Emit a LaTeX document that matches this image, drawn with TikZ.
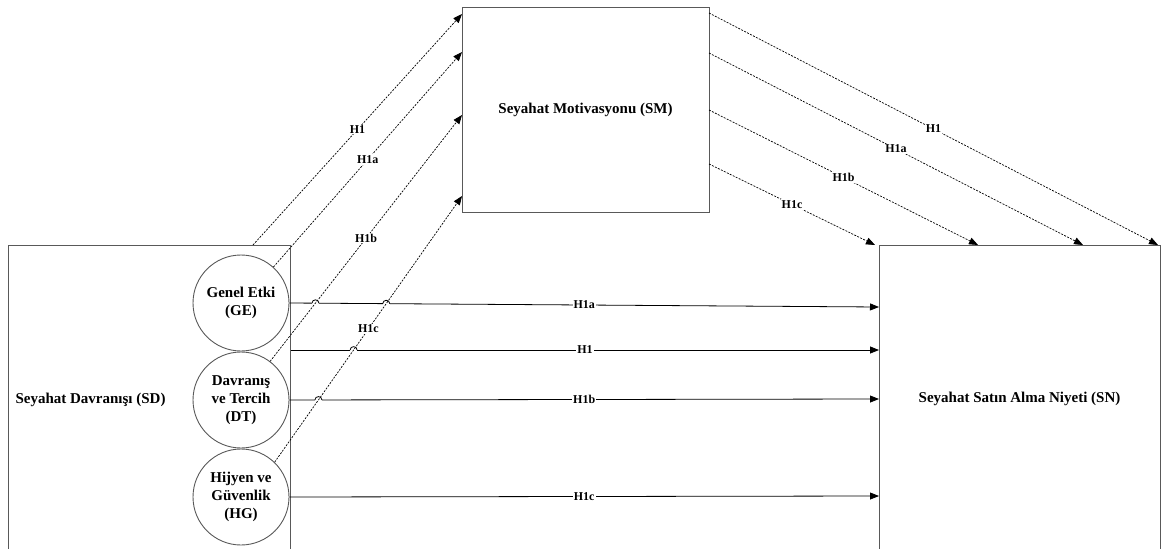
\documentclass[tikz,border=0pt]{standalone}
\usepackage{fontspec}
\setmainfont{Liberation Serif}
\usetikzlibrary{arrows.meta, calc}

\tikzset{
  block/.style={draw=black!65, line width=0.9pt, rectangle, inner sep=0pt,
    font=\fontsize{15}{18}\selectfont\bfseries},
  factor/.style={draw=black!65, line width=0.9pt, circle, minimum size=96pt,
    inner sep=0pt, align=center, font=\fontsize{15}{18}\selectfont\bfseries},
  direct/.style={->, black, line width=0.8pt},
  mediated/.style={->, black, line width=0.7pt, dash pattern=on 2pt off 1.3pt},
  hyp/.style={midway, fill=white, inner sep=1pt, font=\fontsize{12}{14}\selectfont\bfseries}
}

\begin{document}
\begin{tikzpicture}[x=1pt, y=-1pt, >={Triangle[length=9pt,width=7pt]}]

    \clip (0,0) rectangle (1163,549);

    % Main boxes
    \node[block, minimum width=282pt, minimum height=308pt] (SD) at (149,399) {};
    \node[font=\fontsize{15}{18}\selectfont\bfseries, anchor=west] (SDtxt) at (12,400) {Seyahat Davranışı (SD)};
    \node[block, minimum width=247pt, minimum height=205pt] (SM) at (585.5,109.5) {Seyahat Motivasyonu (SM)};
    \node[block, minimum width=281pt, minimum height=308pt] (SN) at (1019.5,399) {Seyahat Satın Alma Niyeti (SN)};

    % Sub-dimensions
    \node[factor] (GE) at (241,303) {Genel Etki\\(GE)};
    \node[factor] (DT) at (241,400) {Davranış\\ve Tercih\\(DT)};
    \node[factor] (HG) at (241,497) {Hijyen ve\\Güvenlik\\(HG)};

    % Arrow ends
    \coordinate (sdtop) at (253,245);
    \coordinate (sdh) at (291,350);
    \coordinate (sm1) at (462,14);
    \coordinate (sm2) at (462,52);
    \coordinate (sm3) at (462,115);
    \coordinate (sm4) at (462,196);
    \coordinate (smo1) at (709,13);
    \coordinate (smo2) at (709,53);
    \coordinate (smo3) at (709,110);
    \coordinate (smo4) at (709,164);
    \coordinate (sn1) at (1158,245);
    \coordinate (sn2) at (1083,245);
    \coordinate (sn3) at (978,245);
    \coordinate (sn4) at (875,245);
    \coordinate (sna) at (879,307);
    \coordinate (snh) at (879,350);
    \coordinate (snb) at (879,399);
    \coordinate (snc) at (879,496);

    % Direct effects
    \draw[direct] (GE.east) -- node[hyp] {H1a} (sna);
    \draw[direct] (sdh) -- node[hyp] {H1} (snh);
    \draw[direct] (DT.east) -- node[hyp] {H1b} (snb);
    \draw[direct] (HG.east) -- node[hyp] {H1c} (snc);

    % Line hops
    \coordinate (j1) at (intersection of GE.east--sna and DT.53--sm3);
    \coordinate (j2) at (intersection of GE.east--sna and HG.46--sm4);
    \coordinate (j3) at (intersection of sdh--snh and HG.46--sm4);
    \coordinate (j4) at (intersection of DT.east--snb and HG.46--sm4);
    \foreach \j in {j1,j2,j3,j4} {
      \fill[white] ($(\j)+(-3.5,-1.5)$) rectangle ($(\j)+(3.5,1.5)$);
      \draw[line width=0.8pt] ($(\j)+(-3.5,0)$) .. controls +(0,-4.5) and +(0,-4.5) .. ($(\j)+(3.5,0)$);
    }

    % Paths to motivation
    \draw[mediated] (sdtop) -- node[hyp] {H1} (sm1);
    \draw[mediated] (GE.48) -- node[hyp] {H1a} (sm2);
    \draw[mediated] (DT.53) -- node[hyp] {H1b} (sm3);
    \draw[mediated] (HG.46) -- node[hyp] {H1c} (sm4);

    % Paths from motivation
    \draw[mediated] (smo1) -- node[hyp] {H1} (sn1);
    \draw[mediated] (smo2) -- node[hyp] {H1a} (sn2);
    \draw[mediated] (smo3) -- node[hyp] {H1b} (sn3);
    \draw[mediated] (smo4) -- node[hyp] {H1c} (sn4);

\end{tikzpicture}
\end{document}
